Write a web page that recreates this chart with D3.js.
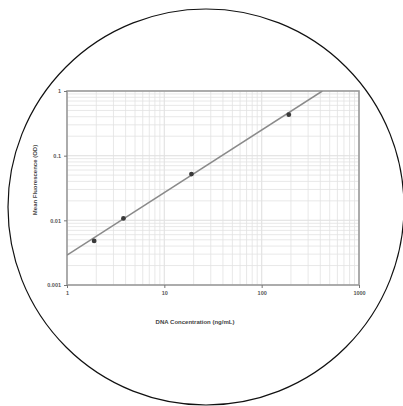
<!DOCTYPE html>
<html>
<head>
<meta charset="utf-8">
<script src="https://cdn.jsdelivr.net/npm/d3@7"></script>
<style>
  body { margin: 0; background: #fff; }
  svg { display: block; }
</style>
</head>
<body>
<script>
// standard points
var concX = [1.9, 3.8, 19, 190]
var signalY = [0.0048, 0.0107, 0.052, 0.43]

// fitted line ends
var fitX = [1, 420]
var fitY = [0.0029, 1]

var xTicks = [1, 10, 100, 1000]
var yTicks = [0.001, 0.01, 0.1, 1]

var W = 403, H = 406
var pLeft = 67, pRight = 359, pTop = 91, pBottom = 285

var svg = d3.select("body").append("svg")
	.attr("width", W)
	.attr("height", H)

var x = d3.scaleLog().domain([1, 1000]).range([pLeft, pRight])
var y = d3.scaleLog().domain([0.001, 1]).range([pBottom, pTop])

// minor + major grid
var gx = [], gy = []
for (var d = 1; d <= 100; d *= 10) {
	for (var k = 1; k <= 10; ++k) gx.push(d * k)
}
for (var d = 0.001; d < 0.5; d *= 10) {
	for (var k = 1; k <= 10; ++k) gy.push(d * k)
}

svg.append("g").selectAll("line")
	.data(gx)
	.enter()
	.append("line")
	.attr("x1", function(d) { return x(d) })
	.attr("x2", function(d) { return x(d) })
	.attr("y1", pTop)
	.attr("y2", pBottom)
	.attr("stroke", "#e2e2e2")
	.attr("stroke-width", 0.8)

svg.append("g").selectAll("line")
	.data(gy)
	.enter()
	.append("line")
	.attr("x1", pLeft)
	.attr("x2", pRight)
	.attr("y1", function(d) { return y(d) })
	.attr("y2", function(d) { return y(d) })
	.attr("stroke", "#e2e2e2")
	.attr("stroke-width", 0.8)

// frame
svg.append("rect")
	.attr("x", pLeft)
	.attr("y", pTop)
	.attr("width", pRight - pLeft)
	.attr("height", pBottom - pTop)
	.attr("fill", "none")
	.attr("stroke", "#9a9a9a")
	.attr("stroke-width", 1.6)

// axes, tick labels only
var xAxis = svg.append("g")
	.attr("transform", "translate(0," + pBottom + ")")
	.call(d3.axisBottom(x).tickValues(xTicks).tickFormat(d3.format("d")).tickSize(3))
xAxis.select(".domain").remove()

var yAxis = svg.append("g")
	.attr("transform", "translate(" + pLeft + ",0)")
	.call(d3.axisLeft(y).tickValues(yTicks).tickFormat(function(d) { return String(d) }).tickSize(3))
yAxis.select(".domain").remove()

svg.selectAll(".tick line").attr("stroke", "#777")
svg.selectAll(".tick text")
	.attr("font-family", "Liberation Sans, Arial, sans-serif")
	.attr("font-size", 5.5)
	.attr("font-weight", "bold")
	.attr("fill", "#555")

// fit line, clipped to plot
svg.append("clipPath").attr("id", "plotclip")
	.append("rect")
	.attr("x", pLeft).attr("y", pTop)
	.attr("width", pRight - pLeft).attr("height", pBottom - pTop)

var line = d3.line()
	.x(function(d) { return x(d[0]) })
	.y(function(d) { return y(d[1]) })

svg.append("path")
	.datum(d3.zip(fitX, fitY))
	.attr("d", line)
	.attr("clip-path", "url(#plotclip)")
	.attr("fill", "none")
	.attr("stroke", "#8a8a8a")
	.attr("stroke-width", 1.5)

svg.selectAll("circle.pt")
	.data(d3.zip(concX, signalY))
	.enter()
	.append("circle")
	.attr("class", "pt")
	.attr("cx", function(d) { return x(d[0]) })
	.attr("cy", function(d) { return y(d[1]) })
	.attr("r", 2.4)
	.attr("fill", "#3a3a3a")

// axis titles
svg.append("text")
	.attr("x", 195)
	.attr("y", 324)
	.attr("text-anchor", "middle")
	.attr("font-family", "Liberation Sans, Arial, sans-serif")
	.attr("font-size", 6)
	.attr("font-weight", "bold")
	.attr("fill", "#444")
	.text("DNA Concentration (ng/mL)")

svg.append("text")
	.attr("transform", "translate(37,180) rotate(-90)")
	.attr("text-anchor", "middle")
	.attr("font-family", "Liberation Sans, Arial, sans-serif")
	.attr("font-size", 6)
	.attr("font-weight", "bold")
	.attr("fill", "#444")
	.text("Mean Fluorescence (OD)")

// surrounding circle
svg.append("circle")
	.attr("cx", 206)
	.attr("cy", 207)
	.attr("r", 198)
	.attr("fill", "none")
	.attr("stroke", "#111")
	.attr("stroke-width", 1.2)
</script>
</body>
</html>
